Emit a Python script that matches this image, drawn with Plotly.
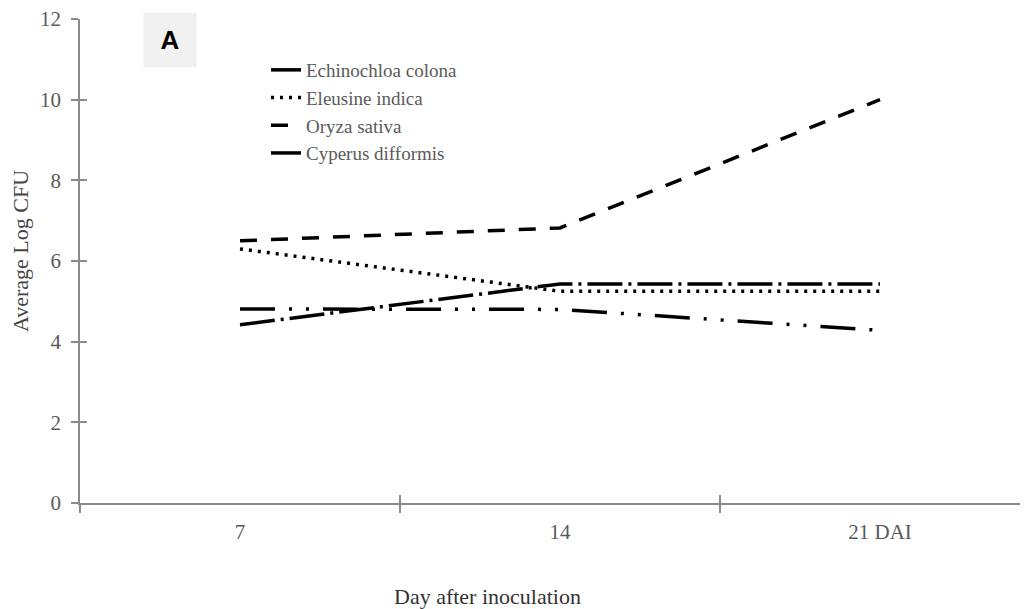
import plotly.graph_objects as go

categories = ["7", "14", "21 DAI"]
series_names = ["Echinochloa colona", "Eleusine indica", "Oryza sativa", "Cyperus difformis"]
echinochloa = [4.42, 5.43, 5.43]
eleusine = [6.30, 5.25, 5.25]
oryza = [6.50, 6.82, 10.0]
cyperus = [4.81, 4.80, 4.28]
y_ticks = [0, 2, 4, 6, 8, 10, 12]

series_values = [echinochloa, eleusine, oryza, cyperus]
dashes = ["35px,6px,3px,6px", "3px,6px", "17px,14px", "35px,14px,3px,14px,3px,14px"]

OFF = 8  # page body margin
W, H = 1020, 601
ML, MR, MT = 80 - OFF, 0, 19 - OFF
plot_bottom = 503 - OFF
MB = H - plot_bottom
plot_w = W - ML - MR
plot_h = H - MT - MB
cat_px = 320.0
x_range = [-0.5, -0.5 + plot_w / cat_px]


def px(xr):
    return (xr - OFF - ML) / plot_w


def py(yr):
    return (plot_bottom - (yr - OFF)) / plot_h


axis_col = "#8a8a8a"
text_col = "#5a5a5a"
font_family = "Liberation Serif, Times New Roman, serif"

xpos = list(range(len(categories)))
fig = go.Figure()
for name, vals, d in zip(series_names, series_values, dashes):
    fig.add_trace(go.Scatter(x=xpos, y=vals, mode="lines", name=name,
                             line=dict(color="black", width=3.5, dash=d)))

fig.add_trace(go.Scatter(x=[None], y=[None], xaxis="x2", yaxis="y2",
                         showlegend=False, hoverinfo="skip"))

bounds = [i - 0.5 for i in range(len(categories))]

fig.update_layout(
    width=W, height=H,
    margin=dict(l=ML, r=MR, t=MT, b=MB),
    plot_bgcolor="white", paper_bgcolor="white",
    font=dict(family=font_family, color=text_col, size=21),
    xaxis=dict(range=x_range, tickvals=xpos, ticktext=categories, ticks="",
               showgrid=False, zeroline=False, showline=True, linecolor=axis_col,
               linewidth=1.5, ticklabelstandoff=9, ticklabeloverflow="allow",
               tickfont=dict(size=21, color=text_col),
               minor=dict(tickmode="array", tickvals=bounds, ticks="outside",
                          ticklen=8, tickwidth=1.5, tickcolor=axis_col, showgrid=False)),
    yaxis=dict(range=[0, 12], tickvals=y_ticks, ticks="outside", ticklen=7,
               tickwidth=1.5, tickcolor=axis_col, showgrid=False, zeroline=False,
               showline=True, linecolor=axis_col, linewidth=1.5,
               ticklabelstandoff=6, ticklabeloverflow="allow",
               tickfont=dict(size=21, color=text_col)),
    xaxis2=dict(overlaying="x", anchor="y2", side="bottom", range=x_range,
                tickvals=bounds, ticks="inside", ticklen=8, tickwidth=1.5,
                tickcolor=axis_col, showticklabels=False, showgrid=False,
                zeroline=False, showline=False),
    yaxis2=dict(overlaying="y", anchor="x2", side="left", range=[0, 12],
                tickvals=y_ticks, ticks="inside", ticklen=7, tickwidth=1.5,
                tickcolor=axis_col, showticklabels=False, showgrid=False,
                zeroline=False, showline=False),
    showlegend=True,
    legend=dict(x=px(266), y=py(51), xanchor="left",
                yanchor="top", bgcolor="rgba(0,0,0,0)",
                font=dict(size=19, color=text_col, family=font_family)),
)

fig.add_annotation(text="Day after inoculation", xref="paper", yref="paper",
                   x=px(487), y=py(596),
                   showarrow=False, xanchor="center", yanchor="middle",
                   font=dict(size=22, color="#333333"))
fig.add_annotation(text="Average Log CFU", xref="paper", yref="paper",
                   x=px(21), y=py(251), textangle=-90,
                   showarrow=False, xanchor="center", yanchor="middle",
                   font=dict(size=22, color="#444444"))
fig.add_annotation(text="<b>A</b>", xref="paper", yref="paper",
                   x=px(170), y=py(40),
                   showarrow=False, xanchor="center", yanchor="middle",
                   width=50, height=52, bgcolor="#f1f1f1",
                   font=dict(size=26, color="black", family="Liberation Sans, Arial, sans-serif"))

fig.write_html("out.html")
